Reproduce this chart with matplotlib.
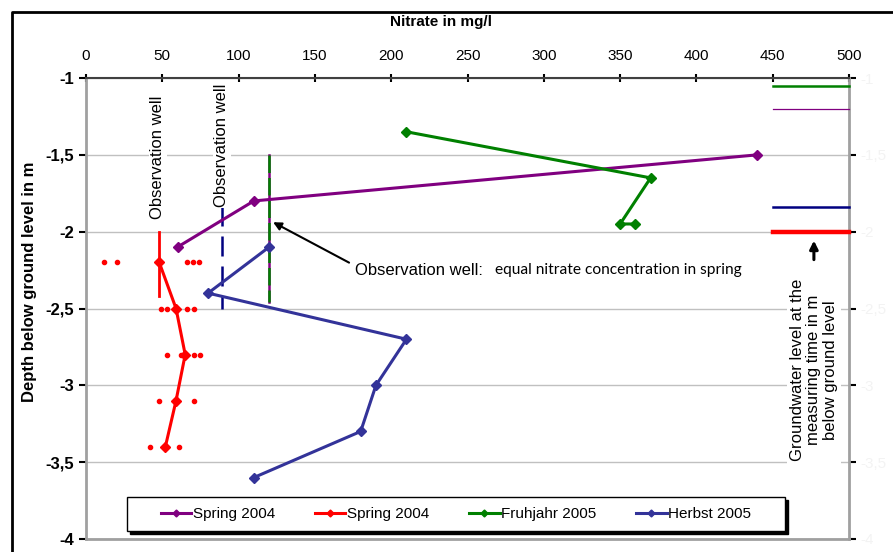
import numpy as np
import matplotlib
matplotlib.use('Agg')
from matplotlib import pyplot as plt
from matplotlib.patches import Rectangle
from matplotlib.lines import Line2D
from matplotlib.ticker import FuncFormatter

plt.rcParams['font.family'] = ['Liberation Sans', 'DejaVu Sans']

# series: nitrate (mg/l) vs depth (m)
spring04_purple_x = [440, 110, 60]
spring04_purple_y = [-1.5, -1.8, -2.1]

spring04_red_x = [48, 59, 65, 59, 52]
spring04_red_y = [-2.2, -2.5, -2.8, -3.1, -3.4]

# red scatter dots around the red series
red_dots_x = [12, 20, 66, 70, 74, 49, 53, 66, 71, 53, 62, 71, 75, 48, 71, 42, 61]
red_dots_y = [-2.2, -2.2, -2.2, -2.2, -2.2, -2.5, -2.5, -2.5, -2.5,
              -2.8, -2.8, -2.8, -2.8, -3.1, -3.1, -3.4, -3.4]

fruhjahr05_x = [210, 370, 350, 360]
fruhjahr05_y = [-1.35, -1.65, -1.95, -1.95]

herbst05_x = [120, 80, 210, 190, 180, 110]
herbst05_y = [-2.1, -2.4, -2.7, -3.0, -3.3, -3.6]

# observation wells (x, y_top, y_bottom)
well_red = (48, -2.0, -2.42)
well_navy = (89, -1.83, -2.5)
well_spring = (120, -1.5, -2.46)

# groundwater levels at measuring time
gw_x = [450, 500]
gw_green = -1.05
gw_purple = -1.2
gw_navy = -1.84
gw_red = -2.0

x_ticks = list(range(0, 501, 50))
y_ticks = [-1, -1.5, -2, -2.5, -3, -3.5, -4]

purple = '#800080'
red = '#ff0000'
green = '#008000'
indigo = '#333399'
navy = '#000080'

fig = plt.figure(figsize=(8.93, 5.52), dpi=100)
ax = fig.add_axes([86/893, 1-539/552, (849-86)/893, (539-78)/552])
ax.set_xlim(0, 500)
ax.set_ylim(-4, -1)

ax.set_yticks(y_ticks)
ax.yaxis.grid(True, color='#c0c0c0', lw=1)
ax.set_axisbelow(True)

# observation wells
ax.plot([well_red[0]]*2, well_red[1:], color=red, lw=2, zorder=2)
ax.plot([well_navy[0]]*2, well_navy[1:], color=navy, lw=1.8, dashes=(8, 4), zorder=2)
ax.plot([well_spring[0]]*2, well_spring[1:], color=purple, lw=1.8, zorder=2)
ax.plot([well_spring[0]]*2, well_spring[1:], color=green, lw=1.8, dashes=(7, 2), zorder=2)

# series
ax.plot(spring04_purple_x, spring04_purple_y, color=purple, lw=2.2, marker='D', ms=5, label='Spring 2004', zorder=3)
ax.plot(spring04_red_x, spring04_red_y, color=red, lw=2.2, marker='D', ms=5, label='Spring 2004', zorder=3)
ax.plot(fruhjahr05_x, fruhjahr05_y, color=green, lw=2.2, marker='D', ms=5, label='Fruhjahr 2005', zorder=3)
ax.plot(herbst05_x, herbst05_y, color=indigo, lw=2.2, marker='D', ms=5, label='Herbst 2005', zorder=3)
ax.plot(red_dots_x, red_dots_y, ls='none', marker='o', ms=3, color=red, zorder=3)

# groundwater level marks on the right
ax.plot(gw_x, [gw_green]*2, color=green, lw=1.8, zorder=3, clip_on=False)
ax.plot(gw_x, [gw_purple]*2, color=purple, lw=0.9, zorder=3, clip_on=False)
ax.plot(gw_x, [gw_navy]*2, color=navy, lw=1.8, zorder=3, clip_on=False)
ax.plot(gw_x, [gw_red]*2, color=red, lw=3.2, zorder=3, clip_on=False)

# axes styling
ax.xaxis.tick_top()
ax.set_xticks(x_ticks)
ax.tick_params(axis='x', top=True, bottom=False, direction='inout', length=6, width=1.5,
               labelsize=11, pad=8, colors='black')
ax.tick_params(axis='y', left=True, right=True, direction='out', length=5, width=1.5, labelsize=12)
ax.yaxis.set_major_formatter(FuncFormatter(lambda v, p: ('%g' % v).replace('.', ',')))
for lab in ax.get_yticklabels():
    lab.set_fontweight('bold')
for t in ax.yaxis.get_major_ticks():
    t.label2.set_visible(True)
    t.label2.set_color('#f3f3f3')
    t.label2.set_fontsize(11)
ax.spines['top'].set_color('#404040')
ax.spines['top'].set_linewidth(1.5)
for s in ['left', 'bottom', 'right']:
    ax.spines[s].set_color('#a0a0a0')
    ax.spines[s].set_linewidth(2)

# texts
box = dict(facecolor='white', edgecolor='none', pad=1)
ax.text(47, -1.92, 'Observation well', rotation=90, ha='center', va='bottom', fontsize=12, bbox=box, zorder=4)
ax.text(89, -1.84, 'Observation well', rotation=90, ha='center', va='bottom', fontsize=12, bbox=box, zorder=4)
ax.annotate('', xy=(121, -1.93), xytext=(174, -2.21),
            arrowprops=dict(arrowstyle='-|>', color='black', lw=1.5, mutation_scale=12), zorder=4)
ax.text(176, -2.25, 'Observation well:', ha='left', va='center', fontsize=12, zorder=4)
ax.text(268, -2.25, 'equal nitrate concentration in spring', ha='left', va='center',
        fontsize=11.2, family=['Lato', 'DejaVu Sans'], zorder=4)
ax.text(477, -2.9, 'Groundwater level at the\nmeasuring time in m\nbelow ground level',
        rotation=90, ha='center', va='center', fontsize=12, multialignment='center',
        linespacing=1.15, bbox=dict(facecolor='white', edgecolor='none', pad=2), zorder=4)
ax.annotate('', xy=(477, -2.04), xytext=(477, -2.2),
            arrowprops=dict(arrowstyle='-|>', color='black', lw=2.2, mutation_scale=12), zorder=4)

fig.text(441/893, 1-22/552, 'Nitrate in mg/l', ha='center', va='center', fontsize=11, fontweight='bold')
fig.text(30/893, 1-282/552, 'Depth below ground level in m', rotation=90, ha='center', va='center',
         fontsize=12, fontweight='bold')

# legend with manual frame + shadow
lx0, lx1 = (127-86)/763, (785-86)/763
ly0, ly1 = (539-531)/461, (539-497)/461
ax.add_patch(Rectangle((lx0 + 0.004, ly0 - 0.007), lx1-lx0, ly1-ly0, transform=ax.transAxes,
                       facecolor='black', edgecolor='black', zorder=5))
ax.add_patch(Rectangle((lx0, ly0), lx1-lx0, ly1-ly0, transform=ax.transAxes,
                       facecolor='white', edgecolor='black', lw=1, zorder=5.1))
leg = ax.legend(loc='center', bbox_to_anchor=((lx0+lx1)/2, (ly0+ly1)/2), ncol=4, frameon=False,
                fontsize=11, handlelength=2.0, handletextpad=0.1, columnspacing=2.6, markerscale=0.7)
leg.set_zorder(6)

# outer frame
fig.add_artist(Line2D([12/893, 12/893, 1], [0, 1-12/552, 1-12/552], transform=fig.transFigure,
                      color='black', lw=2))

plt.savefig('out.png', dpi=100)
